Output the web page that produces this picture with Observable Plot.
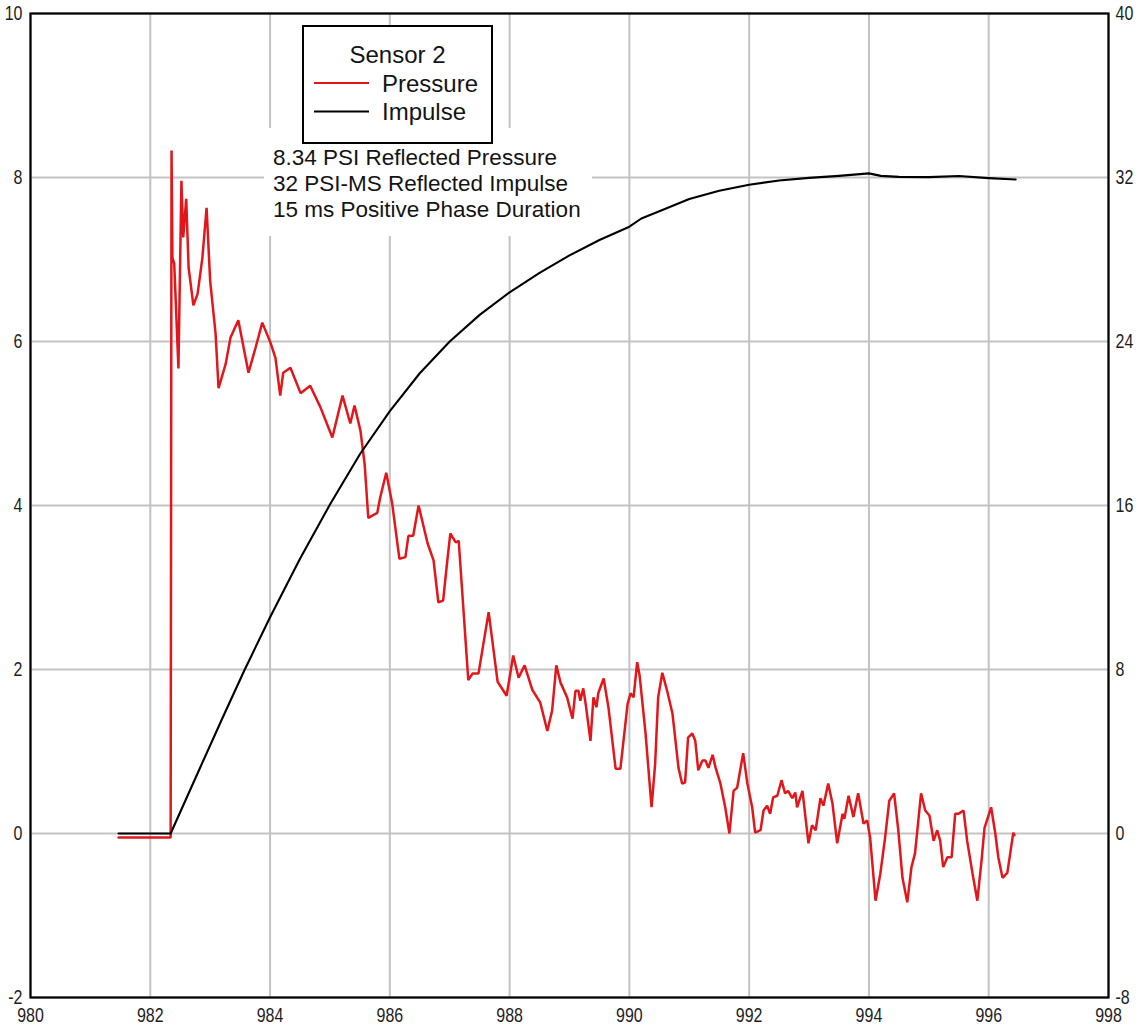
<!DOCTYPE html>
<html>
<head>
<meta charset="utf-8">
<script src="https://cdn.jsdelivr.net/npm/d3@7"></script>
<script src="https://cdn.jsdelivr.net/npm/@observablehq/plot@0.6"></script>
<style>
  html, body { margin: 0; padding: 0; background: #fff; }
  #wrap { position: relative; width: 1139px; height: 1027px; }
  #wrap svg.overlay { position: absolute; left: 0; top: 0; pointer-events: none; }
</style>
</head>
<body>
<div id="wrap"></div>
<script>
// Sensor 2 blast record: time in ms, reflected pressure in PSI
const pressureMs = [
  981.47, 982.34, 982.355, 982.37, 982.40, 982.47, 982.52, 982.55, 982.60, 982.64,
  982.72, 982.79, 982.87, 982.94, 983.00, 983.09, 983.14, 983.26, 983.34, 983.47,
  983.64, 983.76, 983.87, 984.01, 984.09, 984.17, 984.22, 984.34, 984.51, 984.67,
  984.84, 985.04, 985.21, 985.34, 985.41, 985.51, 985.58, 985.64, 985.79, 985.84,
  985.94, 986.04, 986.16, 986.26, 986.31, 986.39, 986.48, 986.63, 986.73, 986.81,
  986.89, 986.96, 987.01, 987.10, 987.15, 987.31, 987.38, 987.48, 987.65, 987.80,
  987.95, 988.06, 988.15, 988.25, 988.38, 988.51, 988.63, 988.71, 988.78, 988.85,
  988.96, 989.05, 989.10, 989.15, 989.18, 989.23, 989.27, 989.35, 989.40, 989.45,
  989.48, 989.57, 989.65, 989.77, 989.85, 989.97, 990.02, 990.07, 990.13, 990.17,
  990.27, 990.37, 990.43, 990.48, 990.55, 990.63, 990.72, 990.82, 990.88, 990.93,
  990.98, 991.05, 991.10, 991.15, 991.22, 991.27, 991.32, 991.39, 991.44, 991.52,
  991.60, 991.67, 991.74, 991.80, 991.90, 991.97, 992.05, 992.10, 992.19, 992.24,
  992.30, 992.35, 992.40, 992.47, 992.54, 992.60, 992.65, 992.72, 992.77, 992.80,
  992.89, 992.99, 993.05, 993.11, 993.19, 993.24, 993.32, 993.39, 993.47, 993.56,
  993.59, 993.66, 993.74, 993.82, 993.91, 993.97, 994.02, 994.11, 994.19, 994.27,
  994.34, 994.42, 994.49, 994.56, 994.64, 994.71, 994.77, 994.87, 994.94, 995.01,
  995.08, 995.14, 995.19, 995.24, 995.31, 995.38, 995.44, 995.49, 995.58, 995.64,
  995.73, 995.81, 995.88, 995.93, 996.04, 996.11, 996.16, 996.23, 996.31, 996.36,
  996.41, 996.43
];
const pressurePsi = [
  -0.05, -0.05, 8.33, 7.02, 6.95, 5.67, 7.96, 7.27, 7.74, 6.90,
  6.44, 6.58, 7.02, 7.63, 6.74, 6.10, 5.43, 5.73, 6.05, 6.26,
  5.62, 5.93, 6.23, 5.98, 5.80, 5.34, 5.62, 5.68, 5.37, 5.46,
  5.20, 4.83, 5.34, 5.00, 5.22, 4.91, 4.50, 3.85, 3.91, 4.10,
  4.40, 4.02, 3.35, 3.37, 3.63, 3.63, 4.00, 3.54, 3.33, 2.82,
  2.84, 3.33, 3.66, 3.55, 3.57, 1.87, 1.95, 1.95, 2.70, 1.85,
  1.68, 2.17, 1.90, 2.05, 1.75, 1.60, 1.25, 1.50, 2.05, 1.84,
  1.66, 1.40, 1.74, 1.74, 1.62, 1.77, 1.58, 1.13, 1.66, 1.54,
  1.71, 1.89, 1.54, 0.79, 0.79, 1.58, 1.71, 1.66, 2.09, 1.93,
  1.22, 0.32, 0.85, 1.66, 1.96, 1.74, 1.46, 0.80, 0.61, 0.62,
  1.17, 1.22, 1.13, 0.77, 0.89, 0.89, 0.80, 0.96, 0.80, 0.61,
  0.32, 0.00, 0.52, 0.56, 0.98, 0.61, 0.32, 0.01, 0.04, 0.28,
  0.34, 0.24, 0.44, 0.46, 0.65, 0.49, 0.52, 0.43, 0.50, 0.32,
  0.52, -0.12, 0.10, 0.04, 0.43, 0.34, 0.61, 0.37, -0.12, 0.24,
  0.18, 0.46, 0.20, 0.49, 0.12, 0.16, -0.05, -0.82, -0.49, -0.05,
  0.40, 0.49, 0.04, -0.54, -0.84, -0.41, -0.24, 0.49, 0.28, 0.22,
  -0.09, 0.04, -0.09, -0.41, -0.29, -0.29, 0.24, 0.24, 0.28, -0.09,
  -0.49, -0.82, -0.33, 0.07, 0.32, 0.00, -0.29, -0.54, -0.48, -0.24,
  0.01, -0.02
];

// Integrated impulse in PSI-ms (right-hand axis)
const impulseMs = [
  981.47, 982.34, 982.80, 983.20, 983.57, 984.00, 984.50, 985.01, 985.50, 986.00,
  986.50, 987.00, 987.50, 988.00, 988.50, 989.00, 989.50, 990.00, 990.20, 990.50,
  991.00, 991.50, 992.00, 992.50, 993.00, 993.50, 994.00, 994.20, 994.50, 995.00,
  995.50, 996.00, 996.45
];
const impulsePsiMs = [
  0.0, 0.0, 3.0, 5.6, 7.95, 10.55, 13.4, 16.1, 18.5, 20.6,
  22.45, 24.0, 25.3, 26.4, 27.35, 28.2, 28.95, 29.6, 30.0, 30.35,
  30.95, 31.35, 31.65, 31.85, 31.98, 32.08, 32.2, 32.08, 32.03, 32.02,
  32.07, 31.97, 31.9
];

// Axis ticks
const timeTicks = [980, 982, 984, 986, 988, 990, 992, 994, 996, 998];
const pressureTicks = [-2, 0, 2, 4, 6, 8, 10];
const impulseTicks = [-8, 0, 8, 16, 24, 32, 40];

// Legend and summary text
const legendTitle = "Sensor 2";
const seriesNames = ["Pressure", "Impulse"];
const seriesColors = ["#e3161b", "#000000"];
const summaryLines = [
  "8.34 PSI Reflected Pressure",
  "32 PSI-MS Reflected Impulse",
  "15 ms Positive Phase Duration"
];

const pressure = pressureMs.map((t, i) => ({t, v: pressurePsi[i]}));
const impulse = impulseMs.map((t, i) => ({t, v: impulsePsiMs[i]}));
// impulse shares the pressure scale: 1 PSI on the left = 4 PSI-ms on the right
const impulseRatio = impulseTicks[impulseTicks.length - 1] / pressureTicks[pressureTicks.length - 1];

const grid = {stroke: "#c3c3c3", strokeOpacity: 1, strokeWidth: 2};

const chart = Plot.plot({
  width: 1139,
  height: 1027,
  marginLeft: 30,
  marginRight: 31,
  marginTop: 13,
  marginBottom: 30,
  x: {domain: [980, 998]},
  y: {domain: [-2, 10]},
  style: {fontFamily: "'Liberation Sans', Arial, sans-serif", fontSize: "16px", color: "#1e1e1e", background: "#fff"},
  marks: [
    Plot.gridX(timeTicks, grid),
    Plot.gridY(pressureTicks, grid),
    Plot.line(pressure, {x: "t", y: "v", stroke: seriesColors[0], strokeWidth: 2.5, strokeLinejoin: "miter"}),
    Plot.line(impulse, {x: "t", y: d => d.v / impulseRatio, stroke: seriesColors[1], strokeWidth: 2.1}),
    Plot.frame({stroke: "#000", strokeWidth: 2.2}),
    Plot.axisX(timeTicks, {tickSize: 0, tickPadding: 11, label: null, tickFormat: d => String(d)}),
    Plot.axisY(pressureTicks, {anchor: "left", tickSize: 0, tickPadding: 8, label: null, tickFormat: d => String(d)}),
    Plot.axisY(pressureTicks, {anchor: "right", tickSize: 0, tickPadding: 7, label: null,
      tickFormat: d => String(impulseTicks[pressureTicks.indexOf(d)])})
  ]
});

// tick labels are set in a tall, narrow face: stretch them vertically
d3.select(chart).selectAll('g[aria-label$="tick label"] text').each(function () {
  const t = this.getAttribute("transform") || "";
  this.setAttribute("transform", t + " scale(1,1.22)");
});

const wrap = document.getElementById("wrap");
wrap.appendChild(chart);

// Legend box and summary block drawn on top of the plot area
const over = d3.select(wrap).append("svg")
  .attr("class", "overlay")
  .attr("width", 1139).attr("height", 1027)
  .attr("font-family", "'Liberation Sans', Arial, sans-serif")
  .attr("fill", "#141414");

over.append("rect").attr("x", 264).attr("y", 128).attr("width", 328).attr("height", 108).attr("fill", "#fff");
over.selectAll("text.summary").data(summaryLines).join("text")
  .attr("class", "summary")
  .attr("x", 273).attr("y", (d, i) => 165 + i * 26)
  .attr("font-size", 22.5)
  .text(d => d);

const lg = over.append("g");
lg.append("rect").attr("x", 303).attr("y", 26).attr("width", 189).attr("height", 117)
  .attr("fill", "#fff").attr("stroke", "#000").attr("stroke-width", 2);
lg.append("text").attr("x", 397.5).attr("y", 63).attr("text-anchor", "middle")
  .attr("font-size", 24).text(legendTitle);
seriesNames.forEach((name, i) => {
  const y = 83 + i * 28.5;
  lg.append("line").attr("x1", 314).attr("x2", 369).attr("y1", y).attr("y2", y)
    .attr("stroke", seriesColors[i]).attr("stroke-width", 2.2);
  lg.append("text").attr("x", 382).attr("y", y + 8.5).attr("font-size", 24).text(name);
});
</script>
</body>
</html>
